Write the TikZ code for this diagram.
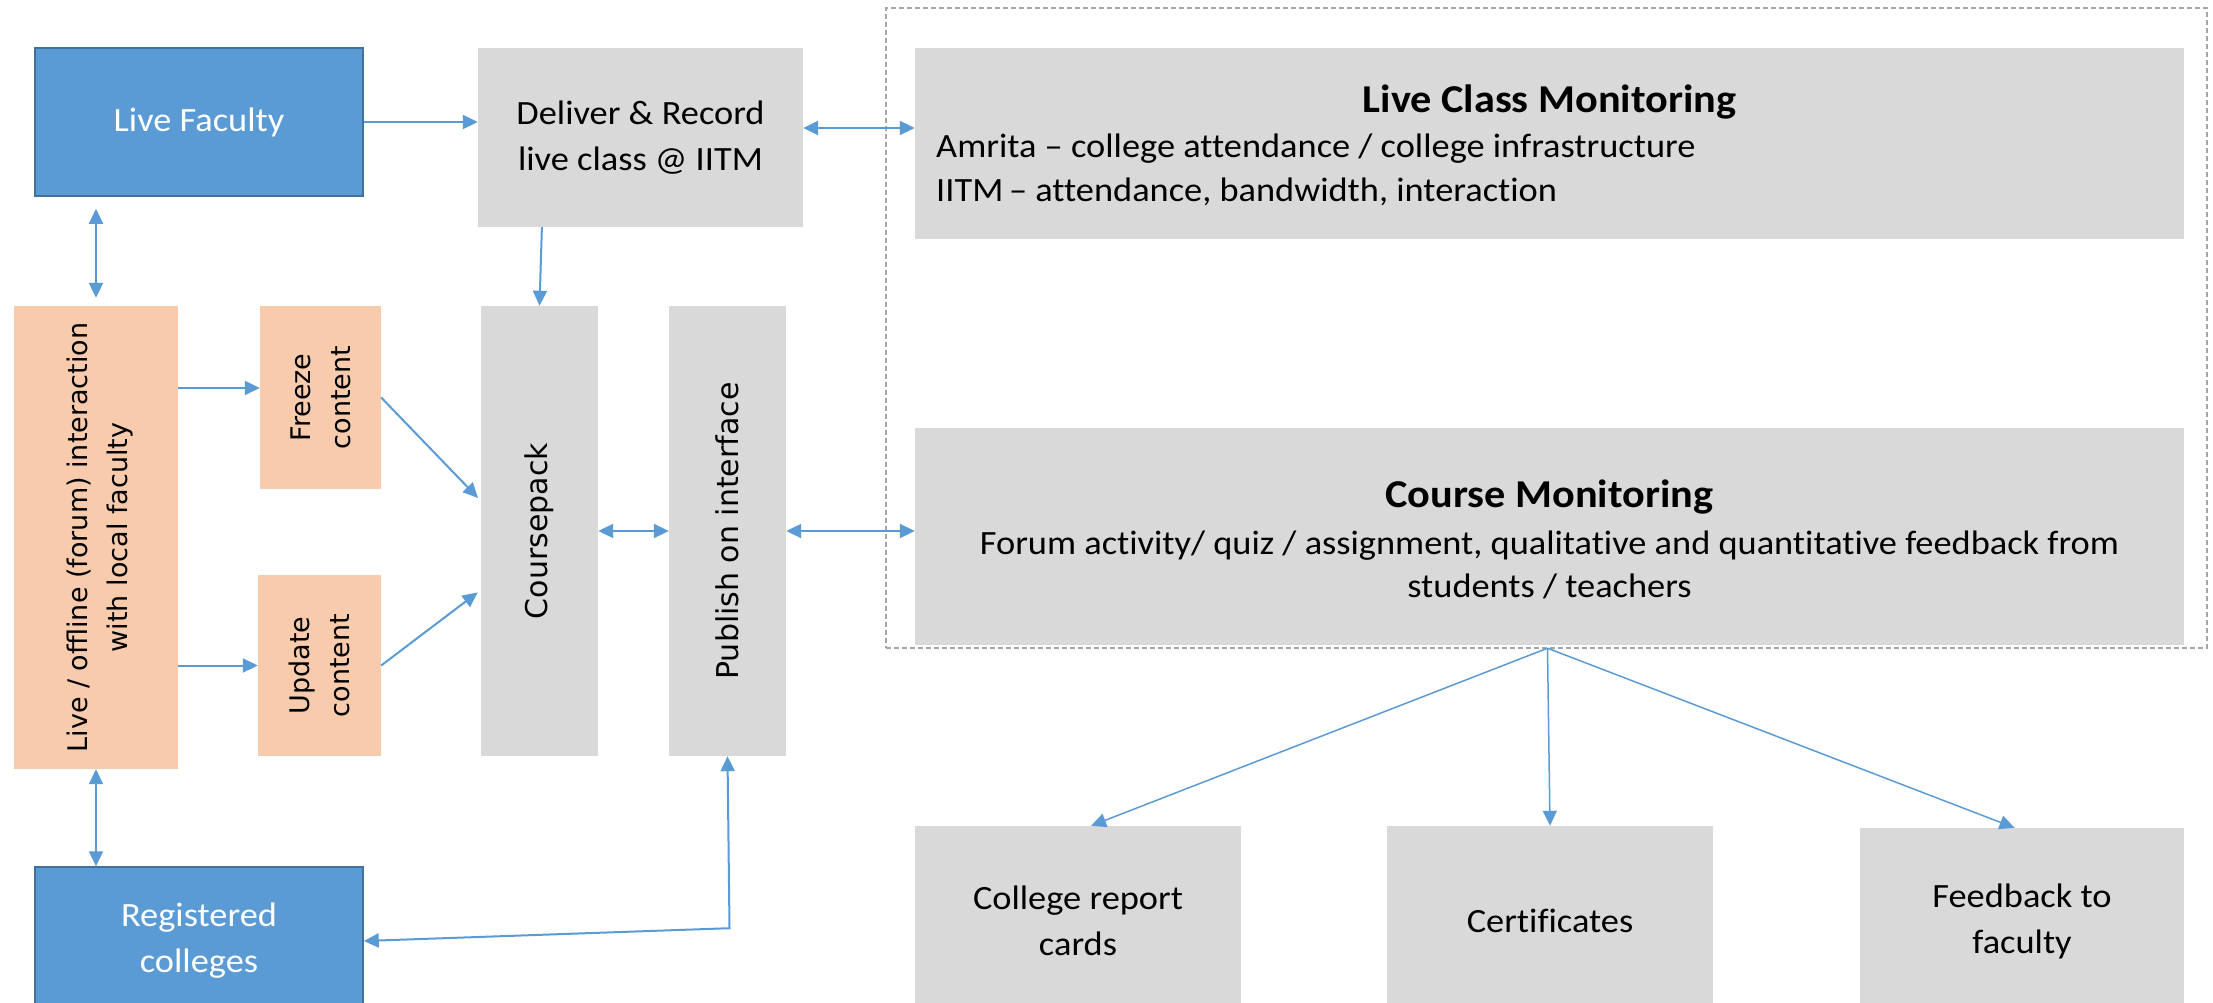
\documentclass[tikz,border=0pt]{standalone}
\usepackage{fontspec}
\setmainfont{Carlito}[FakeStretch=1.07, Ligatures=NoCommon]
\newfontfamily\vfont{DejaVu Sans}
\usetikzlibrary{arrows.meta,calc}
\definecolor{bluefill}{HTML}{5B9BD5}
\definecolor{blueline}{HTML}{41719C}
\definecolor{greyfill}{HTML}{D9D9D9}
\definecolor{peach}{HTML}{F8CBAD}
\definecolor{arrowblue}{HTML}{5B9BD5}
\definecolor{frameline}{HTML}{A6A6A6}
\begin{document}
\begin{tikzpicture}[x=1pt,y=-1pt,
  bodyfont/.style={font=\fontsize{34}{46}\selectfont},
  bluebox/.style={draw=blueline, line width=1.5pt, fill=bluefill, text=white, inner sep=0pt, align=center, bodyfont},
  greybox/.style={fill=greyfill, inner sep=0pt, align=center, bodyfont},
  peachbox/.style={fill=peach, inner sep=0pt},
  vtextsmall/.style={rotate=90, align=center, inner sep=0pt, font=\vfont\fontsize{27}{40}\selectfont},
  vtextbig/.style={rotate=90, align=center, inner sep=0pt, font=\vfont\fontsize{30}{40}\selectfont},
  headfont/.style={font=\fontsize{39.5}{46}\selectfont\bfseries, inner sep=0pt},
  tip/.tip={Triangle[length=15pt,width=14pt]},
  arr/.style={draw=arrowblue, line width=2pt, -tip},
  darr/.style={draw=arrowblue, line width=2pt, tip-tip},
  frame/.style={draw=frameline, line width=1.5pt, dash pattern=on 5pt off 3pt, inner sep=0pt}
]
\useasboundingbox (0,0) rectangle (2213,1003);

% dashed monitoring frame
\node[frame, minimum width=1321pt, minimum height=640pt] (frame) at (1546.5,328) {};

% boxes
\node[bluebox, minimum width=328pt, minimum height=148pt] (lf) at (199,122) {Live Faculty};
\node[greybox, minimum width=325pt, minimum height=179pt] (deliver) at (640.5,137.5) {Deliver \& Record\\live class @ IITM};
\node[greybox, minimum width=1269pt, minimum height=191pt] (lcm) at (1549.5,143.5) {};
\node[greybox, minimum width=1269pt, minimum height=217pt] (cm) at (1549.5,536.5) {};

\node[peachbox, minimum width=164pt, minimum height=463pt] (orange) at (96,537.5) {};
\node[peachbox, minimum width=121pt, minimum height=183pt] (freeze) at (320.5,397.5) {};
\node[peachbox, minimum width=123pt, minimum height=181pt] (update) at (319.5,665.5) {};
\node[greybox, minimum width=117pt, minimum height=450pt] (cp) at (539.5,531) {};
\node[greybox, minimum width=117pt, minimum height=450pt] (pub) at (727.5,531) {};

\node[bluebox, minimum width=328pt, minimum height=148pt] (reg) at (199,941) {Registered\\colleges};
\node[greybox, minimum width=326pt, minimum height=189pt] (crc) at (1078,920.5) {College report\\cards};
\node[greybox, minimum width=326pt, minimum height=189pt] (cert) at (1550,920.5) {Certificates};
\node[greybox, minimum width=324pt, minimum height=187pt] (fb) at (2022,921.5) {Feedback to\\faculty};

% rotated texts
\node[vtextsmall] (orangetext) at ($(orange.center)+(4,0)$) {Live / offline (forum) interaction\\with local faculty};
\node[vtextsmall] (freezetext) at (freeze.center) {Freeze\\content};
\node[vtextsmall] (updatetext) at (update.center) {Update\\content};
\node[vtextbig] (cptext) at (cp.center) {Coursepack};
\node[vtextbig] (pubtext) at (pub.center) {Publish on interface};

% monitoring texts
\node[headfont] (lcmhead) at (1549.5,102) {Live Class Monitoring};
\node[anchor=west, align=left, inner sep=0pt, font=\fontsize{34}{44}\selectfont] (lcmbody) at (936,170) {Amrita – college attendance / college infrastructure\\IITM\,– attendance, bandwidth, interaction};
\node[headfont] (cmhead) at (1549.5,497) {Course Monitoring};
\node[align=center, inner sep=0pt, font=\fontsize{34}{43}\selectfont] (cmbody) at (1549.5,564.5) {Forum activity/ quiz / assignment, qualitative and quantitative feedback from\\students / teachers};

% helper coordinates
\coordinate (dlcm) at ($(deliver.north east)!0.447!(deliver.south east)$);
\coordinate (dcp) at ($(deliver.south west)!0.197!(deliver.south east)$);
\coordinate (fin) at ($(freeze.north west)!0.448!(freeze.south west)$);
\coordinate (cpa) at ($(cp.north west)!0.433!(cp.south west)$);
\coordinate (cpb) at ($(cp.north west)!0.631!(cp.south west)$);
\coordinate (bend) at ($(pub.south)+(2,172)$);
\coordinate (crcin) at ($(crc.north west)!0.54!(crc.north east)$);
\coordinate (fbin) at ($(fb.north west)!0.477!(fb.north east)$);
\coordinate (cmout) at ($(cm.south)+(-2,3)$);

% connectors
\draw[arr] (lf.east) -- (lf.east -| deliver.west);
\draw[darr] (dlcm) -- (dlcm -| lcm.west);
\draw[darr, shorten <=12pt, shorten >=8pt] (lf.south -| orange.north) -- (orange.north);
\draw[arr] (dcp) -- (cp.north);
\draw[arr] (fin -| orange.east) -- (fin);
\draw[arr] (update.west -| orange.east) -- (update.west);
\draw[arr, shorten >=4pt] (freeze.east) -- (cpa);
\draw[arr, shorten >=4pt] (update.east) -- (cpb);
\draw[darr] (cp.east) -- (pub.west);
\draw[darr] (pub.east) -- (pub.east -| cm.west);
\draw[darr] (orange.south) -- (reg.north -| orange.south);
\draw[darr] (pub.south) -- (bend) -- (reg.east);
\draw[arr, line width=1.5pt] (cmout) -- (crcin);
\draw[arr, line width=1.5pt] (cmout) -- (cert.north);
\draw[arr, line width=1.5pt] (cmout) -- (fbin);
\end{tikzpicture}
\end{document}
